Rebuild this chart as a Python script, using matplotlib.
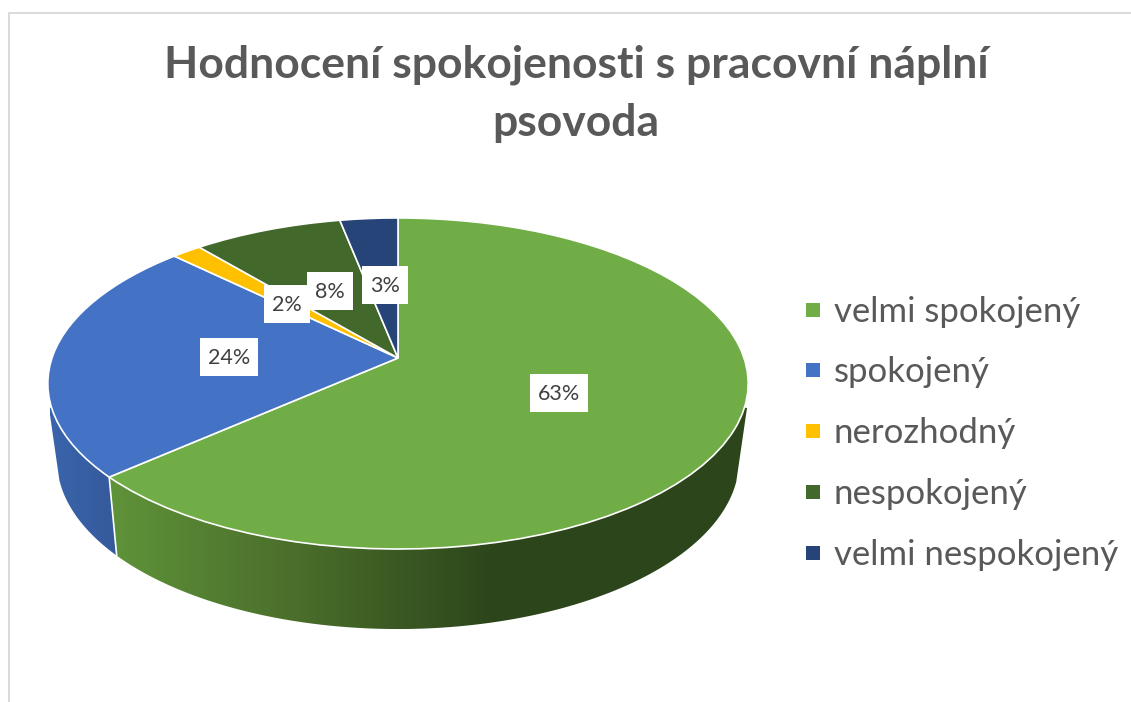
import numpy as np
import matplotlib
matplotlib.use("Agg")
import matplotlib.pyplot as plt
from matplotlib.colors import LinearSegmentedColormap
from matplotlib.patches import Polygon, Rectangle
from matplotlib.transforms import Transform

title = "Hodnocení spokojenosti s pracovní náplní\npsovoda"
categories = ["velmi spokojený", "spokojený", "nerozhodný", "nespokojený", "velmi nespokojený"]
values = [63.49, 23.81, 1.6, 8.0, 3.1]
colors = ["#70AD47", "#4472C4", "#FFC000", "#43682B", "#264478"]

# where the labels and legend rows sit, in pixels
label_xy = [(559, 393), (229, 357), (287, 304), (330, 291), (385, 285)]
legend_y = [310, 370, 431, 492, 553]

TEXT_GREY = "#595959"
K = 0.154


class TiltTransform(Transform):
    # unit circle seen from above, far side gets smaller
    input_dims = 2
    output_dims = 2
    is_separable = False

    def __init__(self, cx, cy, a, b):
        super().__init__()
        self.cx, self.cy, self.a, self.b = cx, cy, a, b

    def transform_non_affine(self, values):
        values = np.asarray(values, dtype=float)
        w = 1 + K * values[:, 1]
        return np.column_stack((self.cx + self.a * values[:, 0] / w,
                                self.cy - self.b * values[:, 1] / w))


top_face = TiltTransform(398, 358, 346, 161.6)
bottom_face = TiltTransform(398, 434, 337, 165)


def rim(tilt, deg):
    rad = np.radians(deg)
    return tilt.transform_non_affine(np.column_stack((np.sin(rad), np.cos(rad))))


def wall(start, end, stops, left, right, top_pts):
    # one piece of the side wall, horizontal gradient clipped to its outline
    deg = np.linspace(start, end, 200)
    low = rim(bottom_face, deg)
    low = low[low[:, 1] >= 480]
    outline = np.vstack((low, top_pts))
    cmap = LinearSegmentedColormap.from_list("wall", stops)
    im = ax.imshow(np.linspace(0, 1, 256)[None, :], cmap=cmap, aspect="auto",
                   extent=[left, right, 640, 380], zorder=1)
    clip = Polygon(outline, closed=True, transform=ax.transData, fc="none", ec="none")
    ax.add_patch(clip)
    im.set_clip_path(clip)


fig = plt.figure(figsize=(11.31, 7.02), dpi=100)
ax = fig.add_axes([0, 0, 1, 1])

wedges, _ = ax.pie(values, colors=colors, startangle=90, counterclock=False,
                   wedgeprops={"edgecolor": "white", "linewidth": 1.2, "zorder": 3})
for w in wedges:
    w.set_transform(top_face + ax.transData)

split = values[0] / sum(values) * 360
split_top = rim(top_face, np.array([split]))
split_low = rim(bottom_face, np.array([split]))

green_stops = [(0, "#5f9339"), (0.293, "#4a6e2b"), (0.606, "#2c451b"), (1, "#2c451b")]
wall(90, split, green_stops, 108, 748, np.vstack((split_top, [[398, 358], [747, 408]])))
wall(split, 270, ["#3a65ab", "#355a9c"], 50, 116,
     np.vstack(([[49, 408]], [[398, 358]], split_top)))
ax.plot([split_top[0, 0], split_low[0, 0]], [split_top[0, 1], split_low[0, 1]],
        color="white", lw=1.2, zorder=2)

for i in [0, 1, 3, 2, 4]:
    x, y = label_xy[i]
    text = f"{round(values[i])}%"
    box_w = 58 if len(text) > 2 else 46
    ax.add_patch(Rectangle((x - box_w / 2, y - 19), box_w, 38, fc="white", ec="none", zorder=5))
    ax.text(x, y + 1, text, family="Lato", fontsize=15.5, color="#404040",
            ha="center", va="center", zorder=5)

for y, name, col in zip(legend_y, categories, colors):
    ax.scatter([813], [y], marker="s", s=105, color=col, linewidths=0, zorder=4)
    ax.text(834, y - 1, name, family="Lato", fontsize=25, color=TEXT_GREY, ha="left", va="center_baseline")

ax.text(576, 93.5, title, family="Lato", fontweight="bold", fontsize=32, color=TEXT_GREY,
        ha="center", va="center", linespacing=1.55)

# chart frame, only left and top show in the crop
ax.plot([8.5, 8.5, 1131], [702, 12.5, 12.5], color="#d9d9d9", lw=1.4, zorder=0)

ax.set_xlim(0, 1131)
ax.set_ylim(702, 0)
ax.set_aspect("auto")
ax.axis("off")

fig.savefig("out.png", dpi=100)
